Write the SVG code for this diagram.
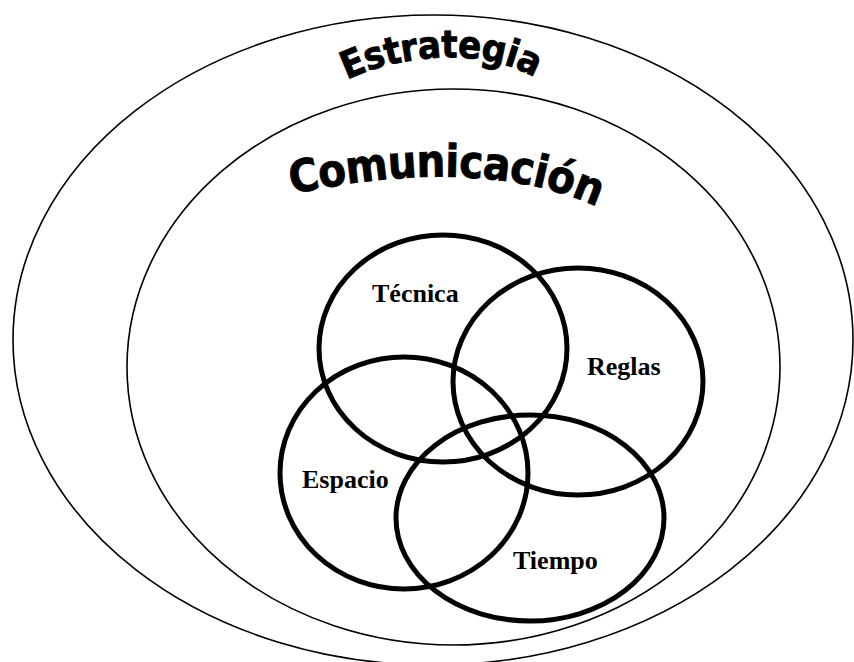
<svg xmlns="http://www.w3.org/2000/svg" xmlns:xlink="http://www.w3.org/1999/xlink" width="854" height="662" viewBox="0 0 854 662">
<style>
.frame{fill:none;stroke:#000;stroke-width:1.6}
.venn{fill:none;stroke:#000;stroke-width:5}
.lbl{font-family:"Liberation Serif","Times New Roman",serif;font-weight:bold;font-size:26px;fill:#000}
.arc{font-family:"DejaVu Sans Condensed","DejaVu Sans",sans-serif;font-stretch:condensed;font-weight:bold;fill:#000;stroke:#000;stroke-width:0.8}
</style>
<defs>
<path id="pEst" d="M 347 80 C 398 55, 490 43, 548 86"/>
<path id="pCom" d="M 292 194 C 370 178, 500 158, 608 212"/>
</defs>
<rect width="854" height="662" fill="#fff"/>
<g id="estrategia">
<ellipse class="frame" cx="433" cy="340" rx="420" ry="325"/>
<text class="arc" font-size="38" letter-spacing="-0.5"><textPath xlink:href="#pEst" href="#pEst">Estrategia</textPath></text>
</g>
<g id="comunicacion">
<ellipse class="frame" cx="453.5" cy="367" rx="326.5" ry="278"/>
<text class="arc" font-size="45" letter-spacing="-0.6"><textPath xlink:href="#pCom" href="#pCom">Comunicación</textPath></text>
</g>
<g id="tecnica">
<ellipse class="venn" cx="443" cy="348.5" rx="124" ry="113.5"/>
<text class="lbl" x="372" y="302">Técnica</text>
</g>
<g id="reglas">
<ellipse class="venn" cx="578" cy="381.5" rx="125" ry="113.5"/>
<text class="lbl" x="587" y="375">Reglas</text>
</g>
<g id="espacio">
<ellipse class="venn" cx="404" cy="473" rx="124" ry="116"/>
<text class="lbl" x="302" y="488">Espacio</text>
</g>
<g id="tiempo">
<ellipse class="venn" cx="530" cy="518" rx="134" ry="103"/>
<text class="lbl" x="513" y="569">Tiempo</text>
</g>
<g id="connectors"/>
</svg>
